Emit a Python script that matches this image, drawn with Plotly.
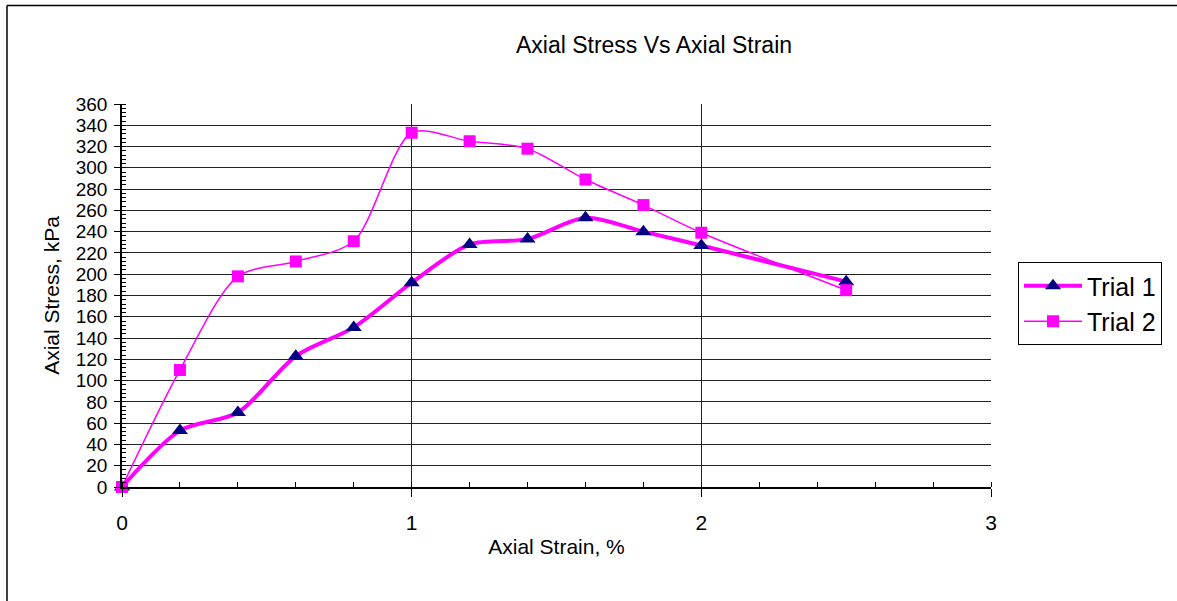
import plotly.graph_objects as go

strain = [0, 0.2, 0.4, 0.6, 0.8, 1.0, 1.2, 1.4, 1.6, 1.8, 2.0, 2.5]
trial1 = [0, 53, 70, 123, 150, 192, 228, 233, 253, 240, 227, 193]
trial2 = [0, 110, 198, 212, 231, 333, 325, 318, 289, 265, 239, 185]

FONT = "Liberation Sans, Arial, sans-serif"
MAGENTA = "#FF00FF"
NAVY = "#000080"

fig = go.Figure()
fig.add_trace(go.Scatter(
    x=strain, y=trial1, name="Trial 1", mode="lines+markers",
    line=dict(color=MAGENTA, width=4, shape="spline", smoothing=0.8),
    marker=dict(symbol="triangle-up", color=NAVY, size=14),
    cliponaxis=False,
))
fig.add_trace(go.Scatter(
    x=strain, y=trial2, name="Trial 2", mode="lines+markers",
    line=dict(color=MAGENTA, width=1.5, shape="spline", smoothing=0.8),
    marker=dict(symbol="square", color=MAGENTA, size=12),
    cliponaxis=False,
))

L, R, T, B = 122, 186, 104, 114
W, H = 1177, 601
pw, ph = W - L - R, H - T - B

fig.update_layout(
    width=W, height=H,
    margin=dict(l=L, r=R, t=T, b=B),
    paper_bgcolor="white", plot_bgcolor="white",
    font=dict(family=FONT, color="black", size=19),
    title=dict(text="Axial Stress Vs Axial Strain", x=(654) / W, xanchor="center",
               y=1 - 45 / H, yanchor="middle", font=dict(size=23)),
    showlegend=True,
    legend=dict(x=(1018 - L) / pw, y=(487 - 262) / ph, xanchor="left", yanchor="top",
                bordercolor="black", borderwidth=1, font=dict(size=25),
                bgcolor="white", tracegroupgap=0, itemwidth=58),
    xaxis=dict(range=[0, 3], dtick=1, tick0=0, showgrid=True, gridcolor="#222",
               gridwidth=1, zeroline=False, showline=True, linecolor="black",
               linewidth=1.5, ticks="outside", ticklen=8, tickcolor="black",
               tickfont=dict(size=21), ticklabelstandoff=8,
               minor=dict(dtick=0.2, ticks="inside", ticklen=5, tickcolor="black",
                          showgrid=False),
               title=dict(text="Axial Strain, %", font=dict(size=21), standoff=6)),
    yaxis=dict(range=[0, 360], dtick=20, tick0=0, showgrid=True, gridcolor="#222",
               gridwidth=1, zeroline=False, showline=True, linecolor="black",
               linewidth=1.5, ticks="outside", ticklen=6, tickcolor="black",
               tickfont=dict(size=19), ticklabelstandoff=3,
               minor=dict(dtick=4, ticks="inside", ticklen=4, tickcolor="black",
                          showgrid=False),
               title=dict(text="Axial Stress, kPa", font=dict(size=21), standoff=10)),
)

# outer chart border (left and top edges visible)
fig.add_shape(type="line", xref="paper", yref="paper",
              x0=(7 - L) / pw, x1=(W + 5 - L) / pw,
              y0=1 + (T - 5.5) / ph, y1=1 + (T - 5.5) / ph,
              line=dict(color="black", width=1.5))
fig.add_shape(type="line", xref="paper", yref="paper",
              x0=(7 - L) / pw, x1=(7 - L) / pw,
              y0=1 + (T - 5.5) / ph, y1=-(B + 5) / ph,
              line=dict(color="black", width=1.5))

fig.write_html("out.html")
